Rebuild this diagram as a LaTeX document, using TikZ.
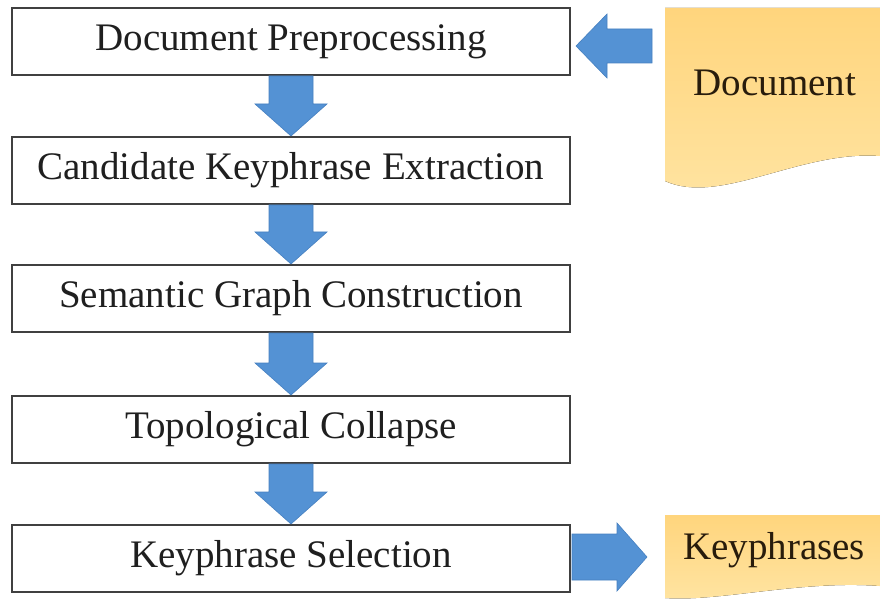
\documentclass[tikz,border=0pt]{standalone}
\usepackage{fontspec}
\setmainfont{Liberation Serif}
\usetikzlibrary{calc}
\definecolor{arrblue}{RGB}{84,146,212}
\definecolor{arredge}{RGB}{70,128,192}
\definecolor{boxedge}{RGB}{64,64,64}
\definecolor{goldtop}{RGB}{255,213,125}
\definecolor{goldbot}{RGB}{255,228,162}
\definecolor{doctext}{RGB}{40,28,12}
\tikzset{
  box/.style={draw=boxedge, line width=2pt, fill=white, minimum width=558pt, minimum height=67pt, inner sep=0pt, text=black!88, font=\fontsize{39}{46}\selectfont},
  flowarr/.style={fill=arrblue, draw=arredge, line width=0.6pt, line join=miter},
  docshape/.style={top color=goldtop, bottom color=goldbot, draw=none},
  doclabel/.style={text=doctext, inner sep=0pt, font=\fontsize{39}{46}\selectfont}
}
\newcommand\flowdownarr[2]{%
  \filldraw[flowarr] ($(#1.south)+(-22,0)$) -- ($(#1.south)+(22,0)$) -- ($(#2.north)+(22,-32)$) -- ($(#2.north)+(36,-32)$) -- (#2.north) -- ($(#2.north)+(-36,-32)$) -- ($(#2.north)+(-22,-32)$) -- cycle;}
\begin{document}
\begin{tikzpicture}[x=1pt,y=-1pt]
\useasboundingbox (0,0) rectangle (880,601);
% boxes
\node[box] (b1) at (291,41.5) {Document Preprocessing};
\node[box] (b2) at (291,170.5) {Candidate Keyphrase Extraction};
\node[box] (b3) at (291,298.5) {Semantic Graph Construction};
\node[box] (b4) at (291,429.5) {Topological Collapse};
\node[box] (b5) at (291,558.5) {Keyphrase Selection};
% down arrows
\flowdownarr{b1}{b2}
\flowdownarr{b2}{b3}
\flowdownarr{b3}{b4}
\flowdownarr{b4}{b5}
% document shape
\fill[docshape] (665,8) -- (880,8) -- (880,156) .. controls (800,150) and (720,206) .. (665,181) -- cycle;
\node[doclabel] (doc) at (775,83) {Document};
% keyphrases shape
\fill[docshape] (665,515) -- (880,515) -- (880,586) .. controls (800,580) and (720,602) .. (665,598) -- cycle;
\node[doclabel] (kp) at (774,550) {Keyphrases};
% arrow document -> b1
\coordinate (docL) at (652,46);
\filldraw[flowarr] (docL) ++(0,-17) -- ++(-45,0) -- ++(0,-15) -- ($(b1.east)+(5,4.5)$) -- ($(docL)+(-45,32)$) -- ++(0,-15) -- ($(docL)+(0,17)$) -- cycle;
% arrow b5 -> keyphrases
\coordinate (kpL) at (647,557);
\filldraw[flowarr] ($(b5.east |- kpL)+(1,-23)$) -- ($(kpL)+(-30,-23)$) -- ($(kpL)+(-30,-34)$) -- (kpL) -- ($(kpL)+(-30,34)$) -- ($(kpL)+(-30,23)$) -- ($(b5.east |- kpL)+(1,23)$) -- cycle;
\end{tikzpicture}
\end{document}
